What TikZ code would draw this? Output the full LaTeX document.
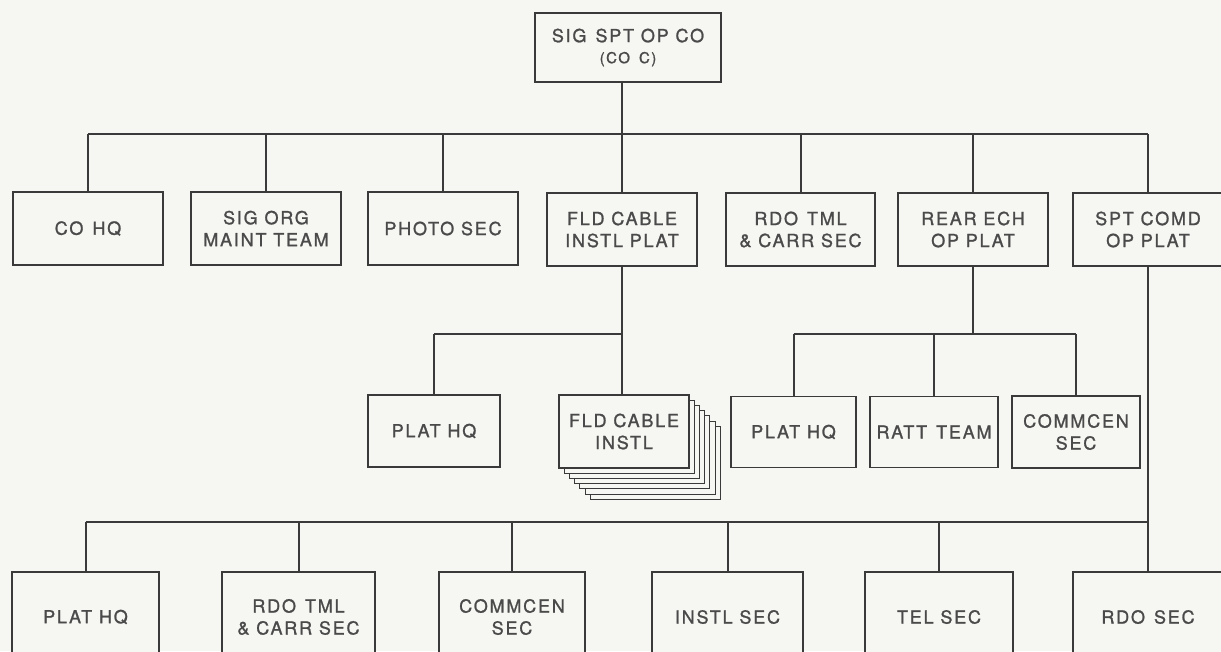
\documentclass[tikz,border=0pt]{standalone}
\usepackage{fontspec}
\setmainfont{TeX Gyre Heros}[LetterSpace=10,FakeBold=1.2]
\usetikzlibrary{calc}
\definecolor{paper}{HTML}{F6F6F3}
\definecolor{ink}{HTML}{3A3A3A}
\definecolor{txt}{HTML}{4A4A4A}
\newcommand{\wgap}{\hspace{9pt}}
\begin{document}
\begin{tikzpicture}[x=1pt,y=-1pt,
  box/.style={draw=ink, line width=1.3pt, rectangle, inner sep=0pt, align=center,
    text=txt, fill=paper, font=\fontsize{18}{22}\selectfont},
  link/.style={draw=ink, line width=2pt},
  layer/.style={draw=ink, line width=1pt, fill=paper},
]
\fill[paper] (0,0) rectangle (1221,651);
\useasboundingbox (0,0) rectangle (1221,651);
\clip (0,0) rectangle (1221,651);

% top
\node[box, minimum width=186pt, minimum height=69pt] (top) at (628,47.5)
  {SIG\wgap SPT OP CO\\[-1pt]{\fontsize{15}{15}\selectfont (CO\wgap C)}};

% row 1
\node[box, minimum width=150pt, minimum height=73pt] (coHQ)    at (88,228.5)   {CO\wgap HQ};
\node[box, minimum width=150pt, minimum height=73pt] (sigOrg)  at (266,228.5)  {SIG ORG\\MAINT TEAM};
\node[box, minimum width=150pt, minimum height=73pt] (photo)   at (443,228.5)  {PHOTO SEC};
\node[box, minimum width=150pt, minimum height=73pt] (fldPlat) at (622,229.5)  {FLD CABLE\\INSTL PLAT};
\node[box, minimum width=149pt, minimum height=73pt] (rdoTml)  at (800.5,229.5){RDO\wgap TML\\\& CARR SEC};
\node[box, minimum width=150pt, minimum height=73pt] (rearEch) at (973,229.5)  {REAR ECH\\OP PLAT};
\node[box, minimum width=150pt, minimum height=73pt] (sptComd) at (1148,229.5) {SPT COMD\\OP PLAT};

% row 2
\node[box, minimum width=132pt, minimum height=72pt] (platHQa) at (434,431)   {PLAT HQ};
\foreach \k in {6,...,1}
  \draw[layer] ({559+5.2*\k},{395+5.2*\k}) rectangle ({689+5.2*\k},{468+5.2*\k});
\node[box, minimum width=130pt, minimum height=73pt] (fldInstl) at (624,431.5) {FLD CABLE\\INSTL};
\node[box, minimum width=125pt, minimum height=71pt] (platHQb) at (793.5,432) {PLAT HQ};
\node[box, minimum width=128pt, minimum height=71pt] (ratt)    at (934,432)   {RATT\wgap TEAM};
\node[box, minimum width=128pt, minimum height=72pt] (commcenA) at (1076,432) {COMMCEN\\SEC};

% row 3
\node[box, minimum width=147pt, minimum height=90pt] (platHQc) at (85.5,617)  {PLAT HQ};
\node[box, minimum width=153pt, minimum height=90pt] (rdoTmlB) at (298.5,617) {RDO\wgap TML\\\& CARR SEC};
\node[box, minimum width=146pt, minimum height=90pt] (commcenB) at (512,617)  {COMMCEN\\SEC};
\node[box, minimum width=151pt, minimum height=90pt] (instl)   at (727.5,617) {INSTL SEC};
\node[box, minimum width=148pt, minimum height=90pt] (tel)     at (939,617)   {TEL SEC};
\node[box, minimum width=150pt, minimum height=90pt] (rdoSec)  at (1148,617)  {RDO\wgap SEC};

% buses
\coordinate (busA) at (622,134);
\coordinate (busB) at (0,334);
\coordinate (busC) at (0,522);

\draw[link] (top.south -| busA) -- (busA);
\draw[link] (coHQ.north |- busA) -- (sptComd.north |- busA);
\foreach \n in {coHQ,sigOrg,photo,fldPlat,rdoTml,rearEch,sptComd}
  \draw[link] (\n.north) -- (\n.north |- busA);

\draw[link] (fldPlat.south) -- (fldPlat.south |- busB);
\draw[link] (platHQa.north |- busB) -- (fldPlat.south |- busB);
\draw[link] (platHQa.north) -- (platHQa.north |- busB);
\draw[link] (fldInstl.north -| fldPlat.south) -- (fldPlat.south |- busB);

\draw[link] (rearEch.south) -- (rearEch.south |- busB);
\draw[link] (platHQb.north |- busB) -- (commcenA.north |- busB);
\foreach \n in {platHQb,ratt,commcenA}
  \draw[link] (\n.north) -- (\n.north |- busB);

\draw[link] (sptComd.south) -- (rdoSec.north);
\draw[link] (platHQc.north |- busC) -- (rdoSec.north |- busC);
\foreach \n in {platHQc,rdoTmlB,commcenB,instl,tel}
  \draw[link] (\n.north) -- (\n.north |- busC);
\end{tikzpicture}
\end{document}
